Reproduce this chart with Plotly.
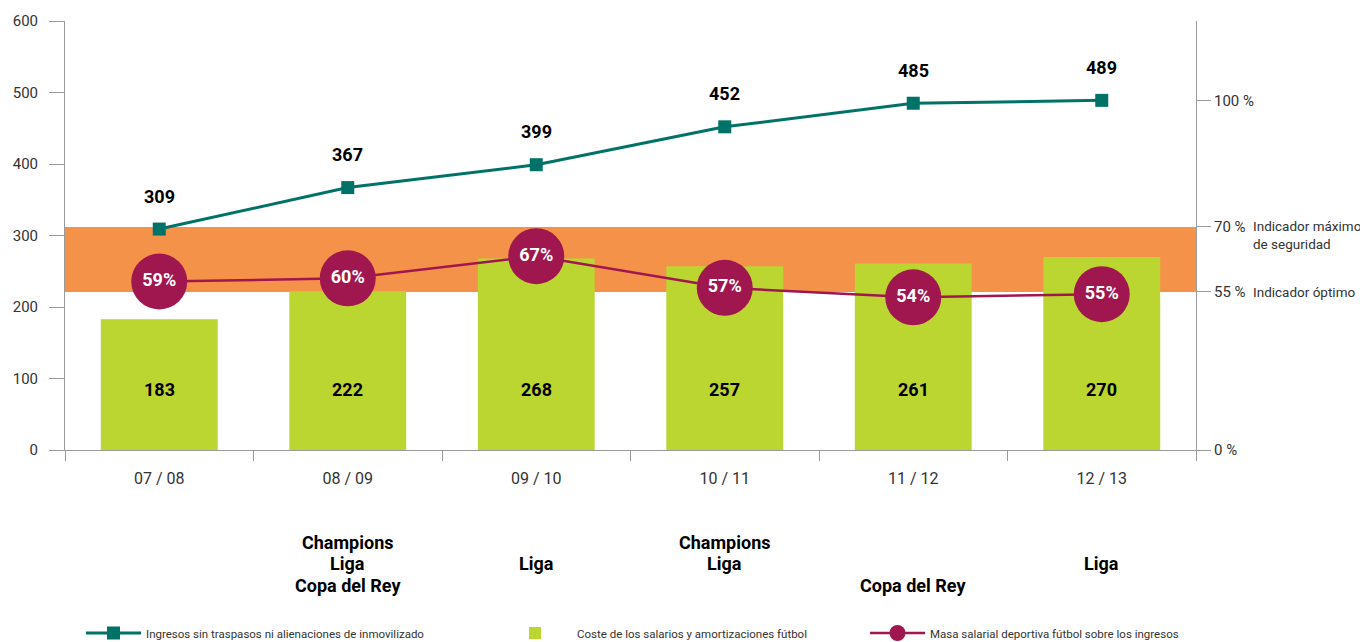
import plotly.graph_objects as go

# Seasons and values (millions of euros)
seasons = ["07 / 08", "08 / 09", "09 / 10", "10 / 11", "11 / 12", "12 / 13"]
ingresos = [309, 367, 399, 452, 485, 489]
coste_salarios = [183, 222, 268, 257, 261, 270]
masa_salarial_pct = [59, 60, 67, 57, 54, 55]

# Titles won each season
trophy_rows = ["Champions", "Liga", "Copa del Rey"]
trophies = [
    [],
    ["Champions", "Liga", "Copa del Rey"],
    ["Liga"],
    ["Champions", "Liga"],
    ["Copa del Rey"],
    ["Liga"],
]

# Right-hand reference scale (placed on the income scale)
right_tick_text = ["0 %", "55 %", "70 %", "100 %"]
right_tick_at = [0, 221, 312, 489]

TEAL = "#007268"
GREEN = "#BBD531"
ORANGE = "#F5924A"
PURPLE = "#A0174F"
AXIS = "#9a9a9a"
TXT = "#333333"
FONT = "Roboto, sans-serif"

W, H = 1360, 642

fig = go.Figure()

fig.add_trace(go.Bar(
    x=seasons, y=coste_salarios, marker=dict(color=GREEN, line_width=0), width=0.62,
    name="Coste de los salarios y amortizaciones fútbol",
    legend="legend2",
))

fig.add_trace(go.Scatter(
    x=seasons, y=ingresos, mode="lines+markers",
    line=dict(color=TEAL, width=3),
    marker=dict(symbol="square", size=13, color=TEAL),
    name="Ingresos sin traspasos ni alienaciones de inmovilizado",
    legend="legend",
))

fig.add_trace(go.Scatter(
    x=seasons, y=masa_salarial_pct, yaxis="y3", mode="lines+markers+text",
    line=dict(color=PURPLE, width=2.5),
    marker=dict(symbol="circle", size=56, color=PURPLE),
    text=[f"{v}%" for v in masa_salarial_pct], textposition="middle center",
    textfont=dict(family=FONT, size=18, color="white", weight="bold"),
    name="Masa salarial deportiva fútbol sobre los ingresos",
    legend="legend3",
))

# Safety band between the 55 % and 70 % indicators, running just past the right scale
fig.add_shape(type="rect", xref="x", yref="y", x0=-0.5, x1=5.575,
              y0=right_tick_at[1], y1=right_tick_at[2],
              fillcolor=ORANGE, line_width=0, layer="below")

annotations = []
# Income labels above the line
for s, v in zip(seasons, ingresos):
    annotations.append(dict(x=s, y=v, text=str(v), showarrow=False, yshift=33,
                            font=dict(family=FONT, size=18, color="black", weight="bold")))
# Cost labels inside the bars
for s, v in zip(seasons, coste_salarios):
    annotations.append(dict(x=s, y=84, text=str(v), showarrow=False,
                            font=dict(family=FONT, size=18, color="black", weight="bold")))
# Titles under each season
for s, won in zip(seasons, trophies):
    for t in won:
        row = trophy_rows.index(t)
        annotations.append(dict(x=s, y=0, yref="paper", text=t, showarrow=False,
                                yanchor="middle", yshift=-(92 + 21.5 * row),
                                font=dict(family=FONT, size=18, color="black", weight="bold")))
# Indicator captions on the right scale
annotations.append(dict(xref="paper", x=1.0486, y=right_tick_at[2], yref="y",
                        text="Indicador máximo<br>de seguridad", showarrow=False,
                        xanchor="left", yanchor="middle", align="left", yshift=-8,
                        font=dict(family=FONT, size=13.5, color=TXT)))
annotations.append(dict(xref="paper", x=1.0486, y=right_tick_at[1], yref="y",
                        text="Indicador óptimo", showarrow=False,
                        xanchor="left", yanchor="middle", align="left",
                        font=dict(family=FONT, size=13.5, color=TXT)))

legend_common = dict(orientation="h", yanchor="middle", xanchor="left",
                     xref="container", yref="container",
                     bgcolor="rgba(0,0,0,0)",
                     font=dict(family=FONT, size=11.5, color=TXT))

fig.update_layout(
    width=W, height=H, autosize=False,
    margin=dict(l=65, r=164, t=21, b=192, autoexpand=False),
    plot_bgcolor="white", paper_bgcolor="white",
    font=dict(family=FONT, color=TXT),
    showlegend=True,
    xaxis=dict(type="category", range=[-0.5, 5.5], tickson="boundaries",
               ticks="outside", ticklen=10, tickcolor=AXIS, showline=True,
               linecolor=AXIS, linewidth=1, showgrid=False, zeroline=False,
               automargin=False,
               tickfont=dict(family=FONT, size=16, color=TXT), ticklabelstandoff=14),
    yaxis=dict(range=[0, 600], tickvals=[0, 100, 200, 300, 400, 500, 600],
               ticks="outside", ticklen=15, tickcolor=AXIS, showline=True,
               linecolor=AXIS, linewidth=1, showgrid=False, zeroline=False,
               automargin=False,
               tickfont=dict(family=FONT, size=15, color=TXT), ticklabelstandoff=8),
    yaxis2=dict(overlaying="y", side="right", anchor="x", range=[0, 600],
                tickvals=right_tick_at, ticktext=right_tick_text,
                ticks="outside", ticklen=14, tickcolor=AXIS, showline=True,
                linecolor=AXIS, linewidth=1, showgrid=False, zeroline=False,
                automargin=False,
                tickfont=dict(family=FONT, size=15, color=TXT)),
    yaxis3=dict(overlaying="y", range=[5.7, 141.4], visible=False),
    legend=dict(x=81 / W, y=9 / H, itemwidth=55, **legend_common),
    legend2=dict(x=493 / W, y=9 / H, itemwidth=74, **legend_common),
    legend3=dict(x=865 / W, y=9 / H, itemwidth=55, **legend_common),
    annotations=annotations,
)

# Invisible trace so the right-hand scale is drawn
fig.add_trace(go.Scatter(x=[seasons[0]], y=[0], yaxis="y2", mode="markers",
                         marker=dict(opacity=0), showlegend=False, hoverinfo="skip"))

fig.write_html("out.html")
